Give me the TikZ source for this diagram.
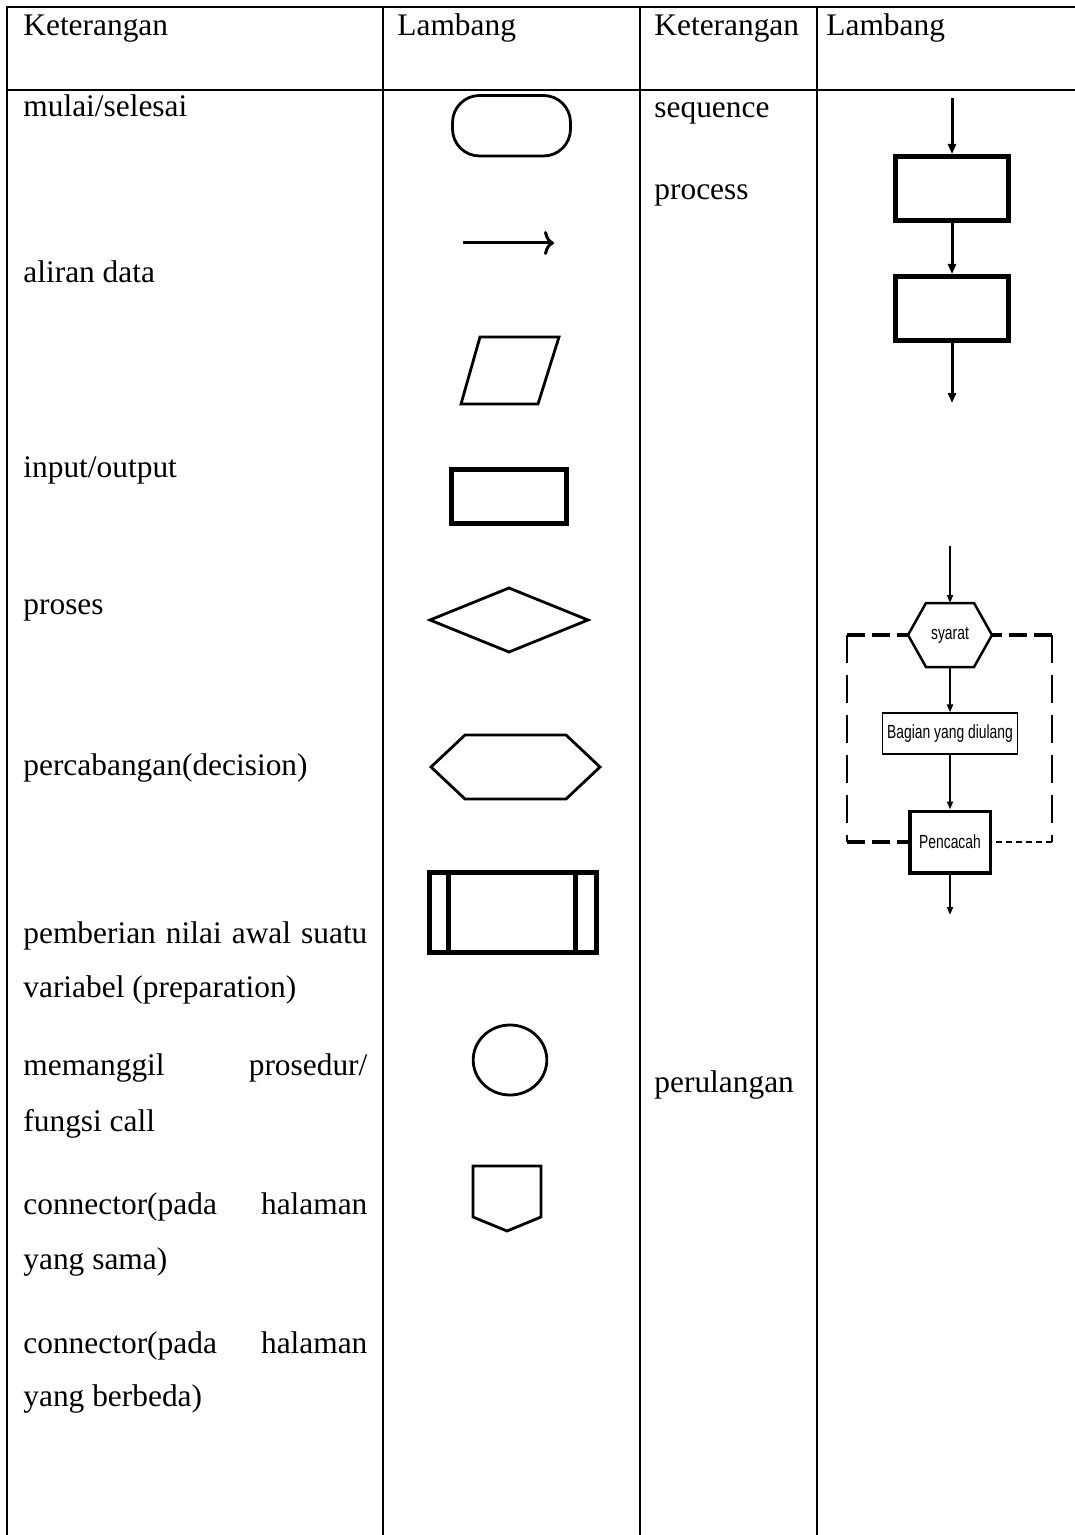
\documentclass[tikz,border=0pt]{standalone}
\usepackage{fontspec}
\setmainfont{Liberation Serif}
\newfontfamily\narrowsans[FakeStretch=0.73]{Liberation Sans}
\usetikzlibrary{arrows.meta}
\begin{document}
\begin{tikzpicture}[x=0.5pt,y=-0.5pt,
  tbl/.style={line width=1.3pt},
  lbl/.style={anchor=base west, inner sep=0pt, font=\fontsize{15.7}{18}\selectfont},
  sym/.style={line width=1.4pt, line join=miter},
  heavy/.style={line width=2.5pt, line join=miter},
  seqbox/.style={draw, line width=2.5pt, minimum width=56.5pt, minimum height=32pt, inner sep=0pt},
  seqarrow/.style={line width=1.5pt, -{Triangle[length=5pt,width=4pt]}},
  looparrow/.style={line width=1pt, -{Triangle[length=4pt,width=3pt]}},
  narrowtxt/.style={font=\narrowsans\fontsize{9.5}{11}\selectfont},
  thickdash/.style={line width=2pt, dash pattern=on 9pt off 3.5pt},
  meddash/.style={line width=1.3pt, dash pattern=on 14pt off 6pt},
  thindash/.style={line width=0.7pt, dash pattern=on 3pt off 2pt},
 ]
\useasboundingbox (0,0) rectangle (1075,1535);
\fill[white] (0,0) rectangle (1075,1535);

% table grid
\draw[tbl] (7,1535) -- (7,7) -- (1075,7);
\draw[tbl] (7,90) -- (1075,90);
\draw[tbl] (383,7) -- (383,1535);
\draw[tbl] (640,7) -- (640,1535);
\draw[tbl] (817,7) -- (817,1535);

% header
\node[lbl] (h1) at (23,36) {Keterangan};
\node[lbl] (h2) at (397,36) {Lambang};
\node[lbl] (h3) at (654,36) {Keterangan};
\node[lbl] (h4) at (826,36) {Lambang};

% column 1 texts
\node[lbl] (k1) at (23,117) {mulai/selesai};
\node[lbl] (k2) at (23,283) {aliran data};
\node[lbl] (k3) at (23,477) {input/output};
\node[lbl] (k4) at (23,614) {proses};
\node[lbl] (k5) at (23,775) {percabangan(decision)};
\node[lbl] (k6a) at (23,943) {\hbox to 172pt{pemberian nilai awal suatu}};
\node[lbl] (k6b) at (23,997) {variabel (preparation)};
\node[lbl] (k7a) at (23,1075) {\hbox to 172pt{memanggil\hfil prosedur/}};
\node[lbl] (k7b) at (23,1131) {fungsi call};
\node[lbl] (k8a) at (23,1214) {\hbox to 172pt{connector(pada\hfil halaman}};
\node[lbl] (k8b) at (23,1269) {yang sama)};
\node[lbl] (k9a) at (23,1353) {\hbox to 172pt{connector(pada\hfil halaman}};
\node[lbl] (k9b) at (23,1406) {yang berbeda)};

% column 3 texts
\node[lbl] (s1) at (654,118) {sequence};
\node[lbl] (s2) at (654,200) {process};
\node[lbl] (s3) at (654,1092) {perulangan};

% column 2 symbols
\draw[sym, rounded corners=13.5pt] (452.5,95.5) rectangle (570.5,156);
\coordinate (aS) at (463,243);
\coordinate (aE) at (554,243);
\draw[line width=1.5pt, -{Computer Modern Rightarrow[length=5pt,width=12pt]}] (aS) -- (aE);
\draw[sym] (480,337) -- (559,337) -- (538,404) -- (461,404) -- cycle;
\draw[heavy] (451.5,469.5) rectangle (566.5,523.5);
\draw[sym] (430,620) -- (509,588) -- (588,620) -- (509,652) -- cycle;
\draw[sym] (431,767) -- (465,735) -- (566,735) -- (600,767) -- (566,799) -- (465,799) -- cycle;
\draw[heavy] (429.5,872.5) rectangle (596.5,952.5);
\draw[heavy] (448,872.5) -- (448,952.5);
\draw[heavy] (575,872.5) -- (575,952.5);
\draw[sym] (510,1060) ellipse [x radius=18.4pt, y radius=17.5pt];
\draw[sym] (473,1166) -- (541,1166) -- (541,1217) -- (507,1231) -- (473,1217) -- cycle;

% sequence diagram
\node[seqbox] (p1) at (952,188.5) {};
\node[seqbox] (p2) at (952,308.5) {};
\coordinate (sIn) at (952,98);
\coordinate (sOut) at (952,403);
\draw[seqarrow] (sIn) -- (p1);
\draw[seqarrow] (p1) -- (p2);
\draw[seqarrow] (p2) -- (sOut);

% loop diagram
\node[narrowtxt, inner sep=0pt] (syarat) at (950,635) {syarat};
\coordinate (syL) at (908,635);
\coordinate (syR) at (992,635);
\coordinate (syT) at (950,603);
\coordinate (syB) at (950,667);
\draw[line width=1.25pt, line join=miter] (syL) -- (926,603) -- (974,603) -- (syR) -- (974,667) -- (926,667) -- cycle;
\node[draw, line width=0.6pt, narrowtxt, minimum width=67.5pt, minimum height=20.5pt, inner sep=1pt] (bag) at (950,733.5) {Bagian yang diulang};
\node[draw, line width=1.75pt, narrowtxt, minimum width=40.25pt, minimum height=30.75pt, inner sep=1pt] (pen) at (950,842) {Pencacah};
\coordinate (lIn) at (950,546);
\coordinate (lOut) at (950,915);
\draw[looparrow] (lIn) -- (syT);
\draw[looparrow] (syB) -- (bag);
\draw[looparrow] (bag) -- (pen);
\draw[looparrow] (pen) -- (lOut);

\coordinate (TL) at (847,635);
\coordinate (TR) at (1052,635);
\coordinate (BL) at (847,842);
\coordinate (BR) at (1052,842);
\draw[thickdash] (TL) -- (syL);
\draw[thickdash] (TR) -- (syR);
\draw[meddash] (TL) -- (BL);
\draw[meddash] (TR) -- (BR);
\draw[thickdash] (BL) -- (pen.west);
\draw[thindash] (BR) -- (pen.east);
\end{tikzpicture}
\end{document}
